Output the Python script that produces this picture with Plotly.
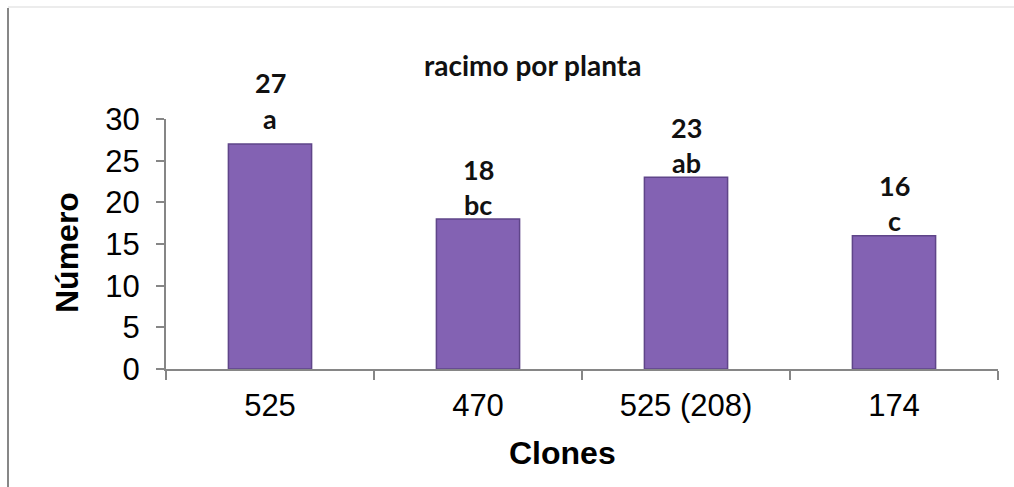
import plotly.graph_objects as go

categories = ["525", "470", "525 (208)", "174"]
values = [27, 18, 23, 16]
letters = ["a", "bc", "ab", "c"]
y_ticks = [0, 5, 10, 15, 20, 25, 30]

# label offsets (pixels above bar top) - style only
letter_shift = [26, 15, 15, 15]
value_shift = [62, 50, 50, 50]

W, H = 1014, 487
L, R, T, B = 166, 16, 119, 118
pw = W - L - R
ph = H - T - B

fig = go.Figure()
fig.add_trace(go.Bar(
    x=categories, y=values, width=0.40,
    marker=dict(color="#8362b3", line=dict(color="#5f4589", width=1.5)),
    hoverinfo="skip",
))

ann = []
for i, (v, l, ls, vs) in enumerate(zip(values, letters, letter_shift, value_shift)):
    ann.append(dict(x=i, y=v, text=f"<b>{l}</b>", showarrow=False, yanchor="middle",
                    yshift=ls, font=dict(family="Lato", size=27, color="#111")))
    ann.append(dict(x=i, y=v, text=f"<b>{v}</b>", showarrow=False, yanchor="middle",
                    yshift=vs, font=dict(family="Lato", size=27, color="#111")))

# chart title
ann.append(dict(xref="paper", yref="paper", x=(532 - L) / pw, y=1 + (T - 65) / ph,
                text="<b>racimo por planta</b>", showarrow=False, xanchor="center", yanchor="middle",
                font=dict(family="Lato", size=28, color="#111")))
# axis titles
ann.append(dict(xref="paper", yref="paper", x=(67 - L) / pw, y=1 - (253 - T) / ph,
                text="<b>Número</b>", showarrow=False, textangle=-90, xanchor="center", yanchor="middle",
                font=dict(family="Liberation Sans", size=32, color="#000")))
ann.append(dict(xref="paper", yref="paper", x=(562 - L) / pw, y=-(453 - T - ph) / ph,
                text="<b>Clones</b>", showarrow=False, xanchor="center", yanchor="middle",
                font=dict(family="Liberation Sans", size=32, color="#000")))

shapes = [
    dict(type="line", xref="paper", yref="paper", x0=(8 - L) / pw, x1=(8 - L) / pw,
         y0=1 + (T - 8) / ph, y1=-(H - T - ph) / ph, line=dict(color="#878787", width=2)),
    dict(type="line", xref="paper", yref="paper", x0=(8 - L) / pw, x1=1 + R / pw,
         y0=1 + (T - 7) / ph, y1=1 + (T - 7) / ph, line=dict(color="#d9d9d9", width=1)),
]

fig.update_layout(
    width=W, height=H,
    margin=dict(l=L, r=R, t=T, b=B),
    plot_bgcolor="white", paper_bgcolor="white",
    showlegend=False,
    annotations=ann, shapes=shapes,
    xaxis=dict(type="category", range=[-0.5, len(categories) - 0.5],
               showline=True, linecolor="#868686", linewidth=2, ticks="outside",
               tickson="boundaries", ticklen=9, tickcolor="#868686", tickwidth=2, tickangle=0,
               ticklabelstandoff=8,
               tickfont=dict(family="Liberation Sans", size=31, color="#000"),
               showgrid=False, zeroline=False, fixedrange=True),
    yaxis=dict(range=[0, 30], tickvals=y_ticks, showline=True, linecolor="#868686", linewidth=2,
               ticks="outside", ticklen=8, tickcolor="#868686", tickwidth=2,
               ticklabelstandoff=10,
               tickfont=dict(family="Liberation Sans", size=31, color="#000"),
               showgrid=False, zeroline=False, fixedrange=True),
)

fig.write_html("out.html", config={"displayModeBar": False})
